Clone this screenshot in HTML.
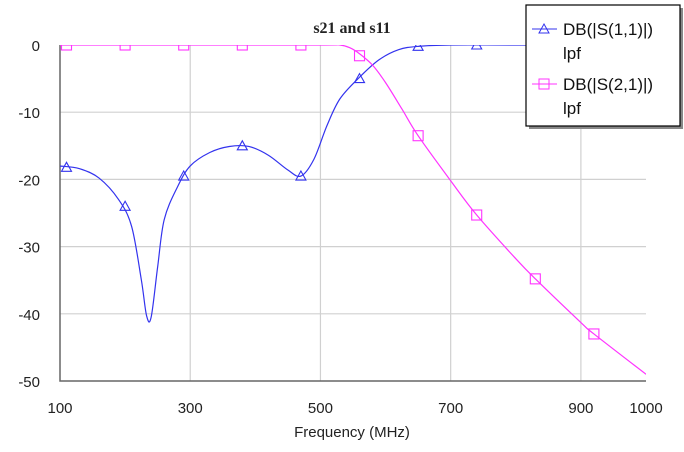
<!DOCTYPE html>
<html><head><meta charset="utf-8"><style>
body{margin:0;background:#fff;}
svg{display:block;font-family:"Liberation Sans",sans-serif;}
</style></head><body>
<svg id="c" width="684" height="452">
<defs><clipPath id="clip"><rect x="60" y="45" width="586" height="337"/></clipPath></defs>
</svg>
<script>
const xTicks=[100,300,500,700,900,1000];
const yTicks=[0,-10,-20,-30,-40,-50];
const s11F=[100,130,160,190,210,225,233,240,250,260,280,300,330,360,390,420,450,470,490,510,530,560,590,620,650,700,800,1000];
const s11V=[-18,-18.4,-19.8,-23,-27,-35,-40.3,-40.5,-33,-26,-21.2,-18,-16,-15.1,-15.1,-16.4,-18.6,-19.5,-17,-12,-8,-4.8,-2.2,-0.7,-0.2,0,0,0];
const s11MF=[110,200,290,380,470,560,650,740];
const s11MV=[-18.2,-24,-19.5,-15,-19.5,-5,-0.2,0];
const s21F=[100,300,500,530,545,560,580,600,625,650,700,740,800,830,900,920,1000];
const s21V=[0,0,0,0,-0.4,-1.3,-3,-5.6,-9.5,-13.5,-20.2,-25.3,-31.8,-34.8,-41.3,-43,-49];
const s21MF=[110,200,290,380,470,560,650,740,830,920];
const s21MV=[0,0,0,0,0,-1.6,-13.5,-25.3,-34.8,-43];
const X=f=>60+(f-100)/900*586, Y=v=>45+(-v)/50*336;
const svg=document.getElementById('c'),NS='http://www.w3.org/2000/svg';
function mk(t,a,p){const e=document.createElementNS(NS,t);for(const k in a)e.setAttribute(k,a[k]);(p||svg).appendChild(e);return e;}
const grid=mk('g',{});


[300,500,700,900].forEach(f=>{const l=mk('line',{x1:X(f),x2:X(f),y1:45,y2:381,stroke:'#d0d0d0','stroke-width':1.2},grid);

});
yTicks.slice(1,5).forEach(v=>{const l=mk('line',{x1:60,x2:646,y1:Y(v),y2:Y(v),stroke:'#d0d0d0','stroke-width':1.2},grid);

});
const ax=mk('path',{d:'M60,45V381H646',fill:'none',stroke:'#666','stroke-width':1.5});


xTicks.forEach(f=>{const t=mk('text',{x:X(f),y:413,'text-anchor':'middle','font-size':15,fill:'#222'});t.textContent=f;

});
yTicks.forEach(v=>{const t=mk('text',{x:40,y:Y(v)+6,'text-anchor':'end','font-size':15,fill:'#222'});t.textContent=v;

});
const xt=mk('text',{x:352,y:437,'text-anchor':'middle','font-size':15,fill:'#222'});xt.textContent='Frequency (MHz)';


const tt=mk('text',{x:352,y:33,'text-anchor':'middle','font-size':16,'font-weight':'bold','font-family':'Liberation Serif,serif',fill:'#222'});tt.textContent='s21 and s11';


function smooth(xs,ys){const p=xs.map((f,i)=>[X(f),Y(ys[i])]);let d='M'+p[0];
for(let i=0;i<p.length-1;i++){const a=p[Math.max(i-1,0)],b=p[i],c=p[i+1],e=p[Math.min(i+2,p.length-1)];
d+=`C${b[0]+(c[0]-a[0])/6},${b[1]+(c[1]-a[1])/6} ${c[0]-(e[0]-b[0])/6},${c[1]-(e[1]-b[1])/6} ${c[0]},${c[1]}`;}return d;}
const plot=mk('g',{'clip-path':'url(#clip)'});


const l1=mk('path',{d:smooth(s11F,s11V),fill:'none',stroke:'#3333ee','stroke-width':1.2},plot);


const l2=mk('path',{d:smooth(s21F,s21V),fill:'none',stroke:'#ff33ff','stroke-width':1.2},plot);


s11MF.forEach((f,i)=>{const x=X(f),y=Y(s11MV[i]);const m=mk('path',{d:`M${x},${y-5}L${x+5},${y+4}L${x-5},${y+4}Z`,fill:'none',stroke:'#3333ee','stroke-width':1.1},plot);

});
s21MF.forEach((f,i)=>{const x=X(f),y=Y(s21MV[i]);const m=mk('rect',{x:x-5,y:y-5,width:10,height:10,fill:'none',stroke:'#ff33ff','stroke-width':1.1},plot);

});
const lg=mk('g',{});


mk('rect',{x:529,y:8,width:154,height:121,fill:'#888'},lg);
mk('rect',{x:526,y:5,width:154,height:121,fill:'#fff',stroke:'#000','stroke-width':1.2},lg);
mk('line',{x1:532,x2:557,y1:29,y2:29,stroke:'#3333ee'},lg);
mk('path',{d:'M544,24L549,33L539,33Z',fill:'none',stroke:'#3333ee'},lg);
mk('line',{x1:532,x2:557,y1:84,y2:84,stroke:'#ff33ff'},lg);
mk('rect',{x:539,y:79,width:10,height:10,fill:'none',stroke:'#ff33ff'},lg);
[['DB(|S(1,1)|)',35],['lpf',59],['DB(|S(2,1)|)',90],['lpf',114]].forEach(([s,y])=>{const t=mk('text',{x:563,y:y,'font-size':17,fill:'#111'},lg);t.textContent=s;

});
</script>
</body></html>
